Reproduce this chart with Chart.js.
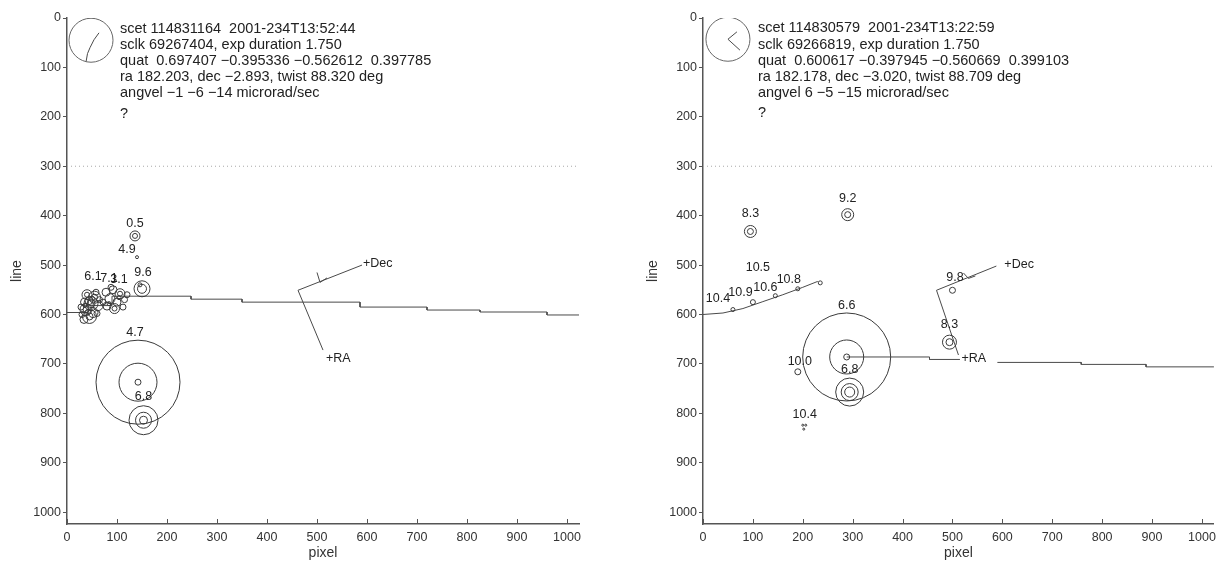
<!DOCTYPE html>
<html>
<head>
<meta charset="utf-8">
<script src="https://cdn.jsdelivr.net/npm/chart.js@4.4.1/dist/chart.umd.min.js"></script>
<style>
html, body { margin: 0; padding: 0; background: #fff; overflow: hidden; }
canvas { position: absolute; top: 0; }
#graficoEsq { left: 0; }
#graficoDir { left: 636px; }
</style>
</head>
<body>
<canvas id="graficoEsq" width="600" height="564"></canvas>
<canvas id="graficoDir" width="586" height="564"></canvas>
<script>
// eixos (pixel x line), iguais nos dois quadros
const xTicks = [0, 100, 200, 300, 400, 500, 600, 700, 800, 900, 1000];
const yTicks = [0, 100, 200, 300, 400, 500, 600, 700, 800, 900, 1000];
const axisMax = 1024;
const limiteLinha = 300;

// ---- quadro esquerdo ----
const leftInfo = [
    "scet 114831164  2001-234T13:52:44",
    "sclk 69267404, exp duration 1.750",
    "quat  0.697407 \u22120.395336 \u22120.562612  0.397785",
    "ra 182.203, dec \u22122.893, twist 88.320 deg",
    "angvel \u22121 \u22126 \u221214 microrad/sec",
    "?"
];
const leftInfoX = 106;
const leftInfoY = [22, 55, 87, 119, 151, 194];

const leftStarX = [136, 136, 140, 150, 150, 146,
    40, 40, 55, 55, 35, 48, 48, 62, 38, 38, 52, 45, 45, 30, 65, 58, 28, 44, 60, 34, 50, 36, 42,
    78, 92, 106, 106, 86, 100, 115, 80, 95, 95, 112, 72, 88, 120, 84, 104,
    142, 142, 142, 153, 153, 153];
const leftStarY = [441, 441, 484, 548, 548, 540,
    560, 560, 565, 565, 575, 578, 578, 582, 590, 590, 596, 604, 604, 600, 570, 555, 585, 572, 598, 610, 568, 582, 595,
    555, 550, 558, 558, 568, 575, 570, 583, 588, 588, 585, 575, 545, 560, 578, 566,
    737, 737, 737, 814, 814, 814];
const leftStarR = [5, 2.5, 1.5, 8, 4.5, 2,
    5, 2.5, 6, 3, 4, 7, 4, 5, 6, 3, 5, 7, 3.5, 3, 3, 3, 3, 4, 3, 4, 2.5, 2, 2.5,
    4, 4, 5, 2.5, 5, 4, 3, 4, 5, 2.5, 3, 3, 3, 3, 2, 2,
    42, 19, 3, 14.5, 8, 4];

const leftMagText = ["0.5", "4.9", "6.1", "7.1", "3.1", "9.6", "4.7", "6.8"];
const leftMagX = [136, 120, 52, 84, 104, 152, 136, 153];
const leftMagY = [415, 468, 524, 527, 530, 516, 636, 767];

const leftLimbX = [0, 42, 42, 90, 90, 248, 248, 350, 350, 586, 586, 720, 720, 826, 826, 960, 960, 1024];
const leftLimbY = [596, 596, 582, 582, 563, 563, 569, 569, 575, 575, 585, 585, 591, 591, 595, 595, 601, 601];

const leftDialX = [48], leftDialY = [45];
const leftHandX = [38, 41, 46, 54, 64];
const leftHandY = [89, 72, 60, 44, 30];

const leftDecX = [462, 590], leftDecY = [551, 500];
const leftDecHeadX = [500, 506, 520], leftDecHeadY = [515, 535, 526];
const leftRaX = [462, 512], leftRaY = [551, 672];
const leftArrowText = ["+Dec", "+RA"];
const leftArrowX = [592, 518], leftArrowY = [497, 690];

// ---- quadro direito ----
const rightInfo = [
    "scet 114830579  2001-234T13:22:59",
    "sclk 69266819, exp duration 1.750",
    "quat  0.600617 \u22120.397945 \u22120.560669  0.399103",
    "ra 182.178, dec \u22123.020, twist 88.709 deg",
    "angvel 6 \u22125 \u221215 microrad/sec",
    "?"
];
const rightInfoX = 110;
const rightInfoY = [21, 55, 87, 119, 151, 192];

const rightStarX = [290, 290, 95, 95, 60, 100, 145, 190, 235, 500, 494, 494,
    288, 288, 288, 294, 294, 294, 190, 200, 206, 202];
const rightStarY = [398, 398, 432, 432, 590, 575, 562, 548, 536, 551, 656, 656,
    686, 686, 686, 757, 757, 757, 716, 824, 824, 832];
const rightStarR = [6, 3, 6, 3, 2, 2.5, 2, 2, 2, 3, 7, 3.5,
    44, 17, 3, 14, 8.5, 5, 3, 1, 1, 1];

const rightMagText = ["9.2", "8.3", "10.5", "10.4", "10.9", "10.6", "10.8", "9.8", "8.3", "6.6", "6.8", "10.0", "10.4"];
const rightMagX = [290, 95, 110, 30, 75, 125, 172, 505, 494, 288, 294, 194, 204];
const rightMagY = [365, 396, 505, 568, 556, 545, 530, 526, 621, 582, 712, 696, 803];

const rightLimbX = [0, 40, 80, 120, 160, 200, 230];
const rightLimbY = [600, 597, 588, 574, 560, 545, 533];
const rightLimb2X = [288, 454, 454, 515];
const rightLimb2Y = [686, 686, 691, 691];
const rightLimb3X = [590, 758, 758, 888, 888, 1024];
const rightLimb3Y = [697, 697, 701, 701, 706, 706];

const rightDialX = [50], rightDialY = [43];
const rightHandX = [68, 50, 74];
const rightHandY = [28, 43, 65];

const rightDecX = [468, 588], rightDecY = [551, 502];
const rightDecHeadX = [522, 532, 546], rightDecHeadY = [516, 527, 522];
const rightRaX = [468, 512], rightRaY = [551, 682];
const rightArrowText = ["+Dec", "+RA"];
const rightArrowX = [604, 518], rightArrowY = [498, 690];

const fonte = "'Liberation Sans', Arial, sans-serif";
const corLinha = "#4a4a4a";

function pontos(xs, ys) {
    return xs.map((x, i) => ({ x: x, y: ys[i] }));
}

function linha(xs, ys, extra) {
    return Object.assign({
        data: pontos(xs, ys),
        showLine: true,
        borderColor: corLinha,
        borderWidth: 1,
        pointRadius: 0,
        fill: false
    }, extra || {});
}

function textoPlugin(p) {
    return {
        id: "textos",
        afterDatasetsDraw(chart) {
            const ctx = chart.ctx;
            const sx = chart.scales.x, sy = chart.scales.y;
            ctx.save();
            ctx.fillStyle = "#222";
            ctx.textBaseline = "middle";
            ctx.font = "14.5px " + fonte;
            ctx.textAlign = "left";
            p.info.forEach((t, i) => {
                ctx.fillText(t, sx.getPixelForValue(p.infoX), sy.getPixelForValue(p.infoY[i]));
            });
            ctx.textAlign = "center";
            ctx.font = "12.5px " + fonte;
            p.magText.forEach((t, i) => {
                ctx.fillText(t, sx.getPixelForValue(p.magX[i]), sy.getPixelForValue(p.magY[i]));
            });
            ctx.textAlign = "left";
            p.arrowText.forEach((t, i) => {
                ctx.fillText(t, sx.getPixelForValue(p.arrowX[i]), sy.getPixelForValue(p.arrowY[i]));
            });
            // marcas do eixo x para dentro
            ctx.strokeStyle = "#555";
            ctx.lineWidth = 1;
            const base = chart.chartArea.bottom;
            xTicks.forEach(v => {
                const px = Math.round(sx.getPixelForValue(v)) + 0.5;
                ctx.beginPath();
                ctx.moveTo(px, base);
                ctx.lineTo(px, base - 5);
                ctx.stroke();
            });
            ctx.restore();
        }
    };
}

function criarPainel(canvasId, p, padDireita) {
    const ctx = document.getElementById(canvasId).getContext("2d");
    const datasets = [
        linha([0, axisMax], [limiteLinha, limiteLinha], { borderColor: "#a8a8a8", borderDash: [1, 3] }),
        {
            data: pontos(p.dialX, p.dialY),
            pointRadius: 22, pointStyle: "circle",
            backgroundColor: "rgba(0,0,0,0)", borderColor: "#666", pointBorderWidth: 1
        },
        linha(p.handX, p.handY),
        {
            data: pontos(p.starX, p.starY),
            pointRadius: p.starR, pointStyle: "circle",
            backgroundColor: "rgba(0,0,0,0)", borderColor: "#3a3a3a", pointBorderWidth: 1
        }
    ];
    p.limbs.forEach(l => datasets.push(linha(l[0], l[1])));
    datasets.push(linha(p.decX, p.decY));
    datasets.push(linha(p.decHeadX, p.decHeadY));
    datasets.push(linha(p.raX, p.raY));

    const fonteTick = { family: fonte, size: 12.5 };
    return new Chart(ctx, {
        type: "scatter",
        data: { datasets: datasets },
        options: {
            responsive: false,
            animation: false,
            layout: { autoPadding: false, padding: { top: 18, right: padDireita, left: 0, bottom: 0 } },
            plugins: { legend: { display: false }, tooltip: { enabled: false } },
            scales: {
                x: {
                    type: "linear", min: 0, max: axisMax,
                    afterBuildTicks: s => { s.ticks = xTicks.map(v => ({ value: v })); },
                    afterFit: s => { s.height = 40; },
                    grid: { drawOnChartArea: false, drawTicks: false },
                    border: { display: true, color: "#555", width: 1.5 },
                    ticks: { color: "#333", font: fonteTick, padding: 6, maxRotation: 0, callback: v => String(v) },
                    title: { display: true, text: "pixel", color: "#333", font: { family: fonte, size: 14 }, padding: { bottom: 2, top: 0 } }
                },
                y: {
                    type: "linear", min: 0, max: axisMax, reverse: true,
                    afterBuildTicks: s => { s.ticks = yTicks.map(v => ({ value: v })); },
                    afterFit: s => { s.width = 67; },
                    grid: { drawOnChartArea: false, drawTicks: true, tickLength: 4, color: "#555" },
                    border: { display: true, color: "#555", width: 1.5 },
                    ticks: { color: "#333", font: fonteTick, padding: 2, callback: v => String(v) },
                    title: { display: true, text: "line", color: "#333", font: { family: fonte, size: 14 }, padding: { top: 9, bottom: 0 } }
                }
            }
        },
        plugins: [textoPlugin(p)]
    });
}

criarPainel("graficoEsq", {
    info: leftInfo, infoX: leftInfoX, infoY: leftInfoY,
    starX: leftStarX, starY: leftStarY, starR: leftStarR,
    magText: leftMagText, magX: leftMagX, magY: leftMagY,
    limbs: [[leftLimbX, leftLimbY]],
    dialX: leftDialX, dialY: leftDialY, handX: leftHandX, handY: leftHandY,
    decX: leftDecX, decY: leftDecY, decHeadX: leftDecHeadX, decHeadY: leftDecHeadY,
    raX: leftRaX, raY: leftRaY,
    arrowText: leftArrowText, arrowX: leftArrowX, arrowY: leftArrowY
}, 21);

criarPainel("graficoDir", {
    info: rightInfo, infoX: rightInfoX, infoY: rightInfoY,
    starX: rightStarX, starY: rightStarY, starR: rightStarR,
    magText: rightMagText, magX: rightMagX, magY: rightMagY,
    limbs: [[rightLimbX, rightLimbY], [rightLimb2X, rightLimb2Y], [rightLimb3X, rightLimb3Y]],
    dialX: rightDialX, dialY: rightDialY, handX: rightHandX, handY: rightHandY,
    decX: rightDecX, decY: rightDecY, decHeadX: rightDecHeadX, decHeadY: rightDecHeadY,
    raX: rightRaX, raY: rightRaY,
    arrowText: rightArrowText, arrowX: rightArrowX, arrowY: rightArrowY
}, 7);
</script>
</body>
</html>
